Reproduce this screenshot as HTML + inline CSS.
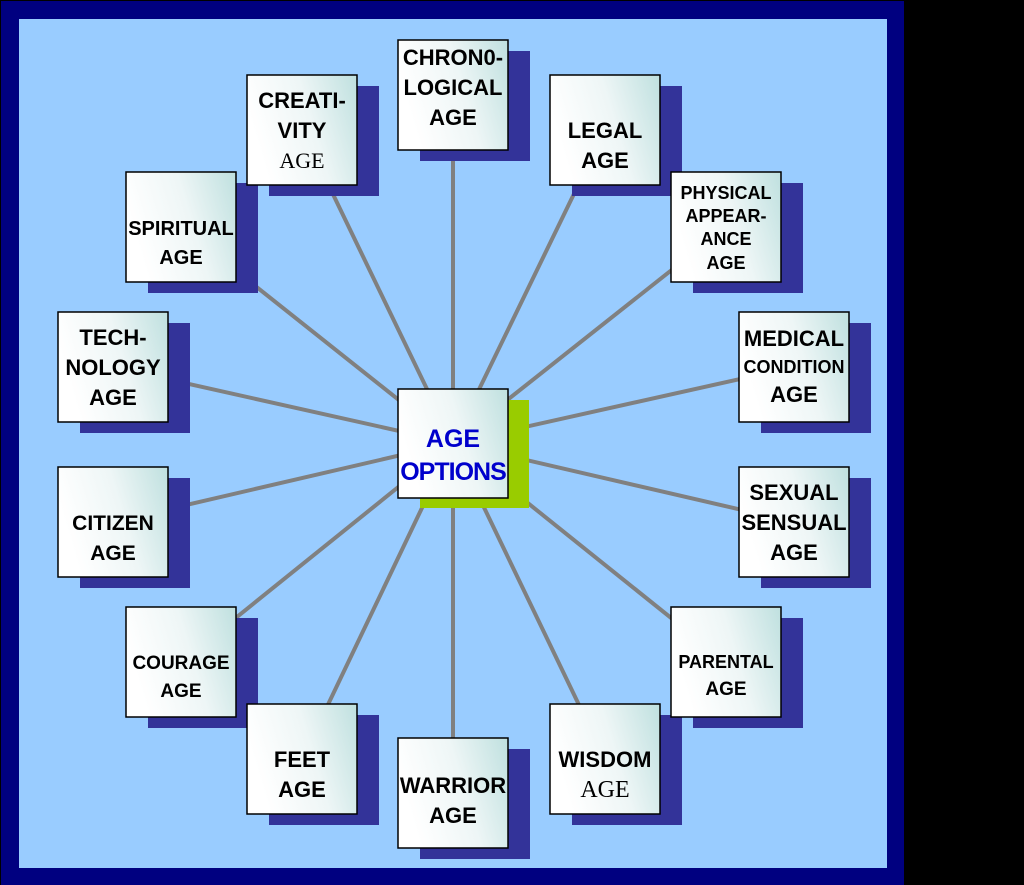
<!DOCTYPE html>
<html><head><meta charset="utf-8"><style>
html,body{margin:0;padding:0;background:#000;}
svg{display:block;}
text{font-family:"Liberation Sans",Arial,sans-serif;font-weight:bold;fill:#000;text-anchor:middle;}
.s{font-family:"Liberation Serif",serif;font-weight:normal;}
</style></head><body>
<svg width="1024" height="885" xmlns="http://www.w3.org/2000/svg">
<defs>
<linearGradient id="g" x1="0" y1="0.3" x2="1" y2="0">
<stop offset="0" stop-color="#ffffff"/><stop offset="0.5" stop-color="#eef6f6"/><stop offset="1" stop-color="#bfe0df"/>
</linearGradient>
</defs>
<rect x="0" y="0" width="1024" height="885" fill="#000"/>
<rect x="1" y="1" width="903" height="884" fill="#000080"/>
<rect x="19" y="19" width="868" height="849" fill="#99ccff"/>
<g stroke="#808080" stroke-width="4">
<line x1="453" y1="443" x2="453" y2="95"/>
<line x1="453" y1="443" x2="302" y2="130"/>
<line x1="453" y1="443" x2="605" y2="130"/>
<line x1="453" y1="443" x2="181" y2="227"/>
<line x1="453" y1="443" x2="726" y2="227"/>
<line x1="453" y1="443" x2="113" y2="367"/>
<line x1="453" y1="443" x2="794" y2="367"/>
<line x1="453" y1="443" x2="113" y2="522"/>
<line x1="453" y1="443" x2="794" y2="522"/>
<line x1="453" y1="443" x2="181" y2="662"/>
<line x1="453" y1="443" x2="726" y2="662"/>
<line x1="453" y1="443" x2="302" y2="759"/>
<line x1="453" y1="443" x2="605" y2="759"/>
<line x1="453" y1="443" x2="453" y2="793"/>
</g>
<g fill="#333399">
<rect x="420" y="51" width="110" height="110"/>
<rect x="269" y="86" width="110" height="110"/>
<rect x="572" y="86" width="110" height="110"/>
<rect x="148" y="183" width="110" height="110"/>
<rect x="693" y="183" width="110" height="110"/>
<rect x="80" y="323" width="110" height="110"/>
<rect x="761" y="323" width="110" height="110"/>
<rect x="80" y="478" width="110" height="110"/>
<rect x="761" y="478" width="110" height="110"/>
<rect x="148" y="618" width="110" height="110"/>
<rect x="693" y="618" width="110" height="110"/>
<rect x="269" y="715" width="110" height="110"/>
<rect x="572" y="715" width="110" height="110"/>
<rect x="420" y="749" width="110" height="110"/>
</g>
<rect x="420" y="400" width="109" height="108" fill="#99cc00"/>
<g fill="url(#g)" stroke="#000" stroke-width="1.5">
<rect x="398" y="40" width="110" height="110"/>
<rect x="247" y="75" width="110" height="110"/>
<rect x="550" y="75" width="110" height="110"/>
<rect x="126" y="172" width="110" height="110"/>
<rect x="671" y="172" width="110" height="110"/>
<rect x="58" y="312" width="110" height="110"/>
<rect x="739" y="312" width="110" height="110"/>
<rect x="58" y="467" width="110" height="110"/>
<rect x="739" y="467" width="110" height="110"/>
<rect x="126" y="607" width="110" height="110"/>
<rect x="671" y="607" width="110" height="110"/>
<rect x="247" y="704" width="110" height="110"/>
<rect x="550" y="704" width="110" height="110"/>
<rect x="398" y="738" width="110" height="110"/>
<rect x="398" y="389" width="110" height="109"/>
</g>
<g font-size="22">
<text x="453" y="65">CHRON0-</text><text x="453" y="95">LOGICAL</text><text x="453" y="125">AGE</text>
<text x="302" y="108">CREATI-</text><text x="302" y="138">VITY</text><text x="302" y="168" class="s">AGE</text>
<text x="605" y="138">LEGAL</text><text x="605" y="168">AGE</text>
<text x="181" y="235" font-size="20">SPIRITUAL</text><text x="181" y="264" font-size="20">AGE</text>
<text x="726" y="199" font-size="18">PHYSICAL</text><text x="726" y="222" font-size="18">APPEAR-</text><text x="726" y="245" font-size="18">ANCE</text><text x="726" y="269" font-size="18">AGE</text>
<text x="113" y="345">TECH-</text><text x="113" y="375">NOLOGY</text><text x="113" y="405">AGE</text>
<text x="794" y="346">MEDICAL</text><text x="794" y="373" font-size="18">CONDITION</text><text x="794" y="402">AGE</text>
<text x="113" y="530" font-size="21">CITIZEN</text><text x="113" y="560" font-size="21">AGE</text>
<text x="794" y="500">SEXUAL</text><text x="794" y="530">SENSUAL</text><text x="794" y="560">AGE</text>
<text x="181" y="669" font-size="19">COURAGE</text><text x="181" y="697" font-size="19">AGE</text>
<text x="726" y="668" font-size="18">PARENTAL</text><text x="726" y="695" font-size="19">AGE</text>
<text x="302" y="767">FEET</text><text x="302" y="797">AGE</text>
<text x="605" y="767">WISDOM</text><text x="605" y="797" class="s" font-size="24">AGE</text>
<text x="453" y="793">WARRIOR</text><text x="453" y="823">AGE</text>
<text x="453" y="447" font-size="25" style="fill:#0000cc">AGE</text><text x="453" y="480" font-size="25" letter-spacing="-1" style="fill:#0000cc">OPTIONS</text>
</g>
</svg>
</body></html>
